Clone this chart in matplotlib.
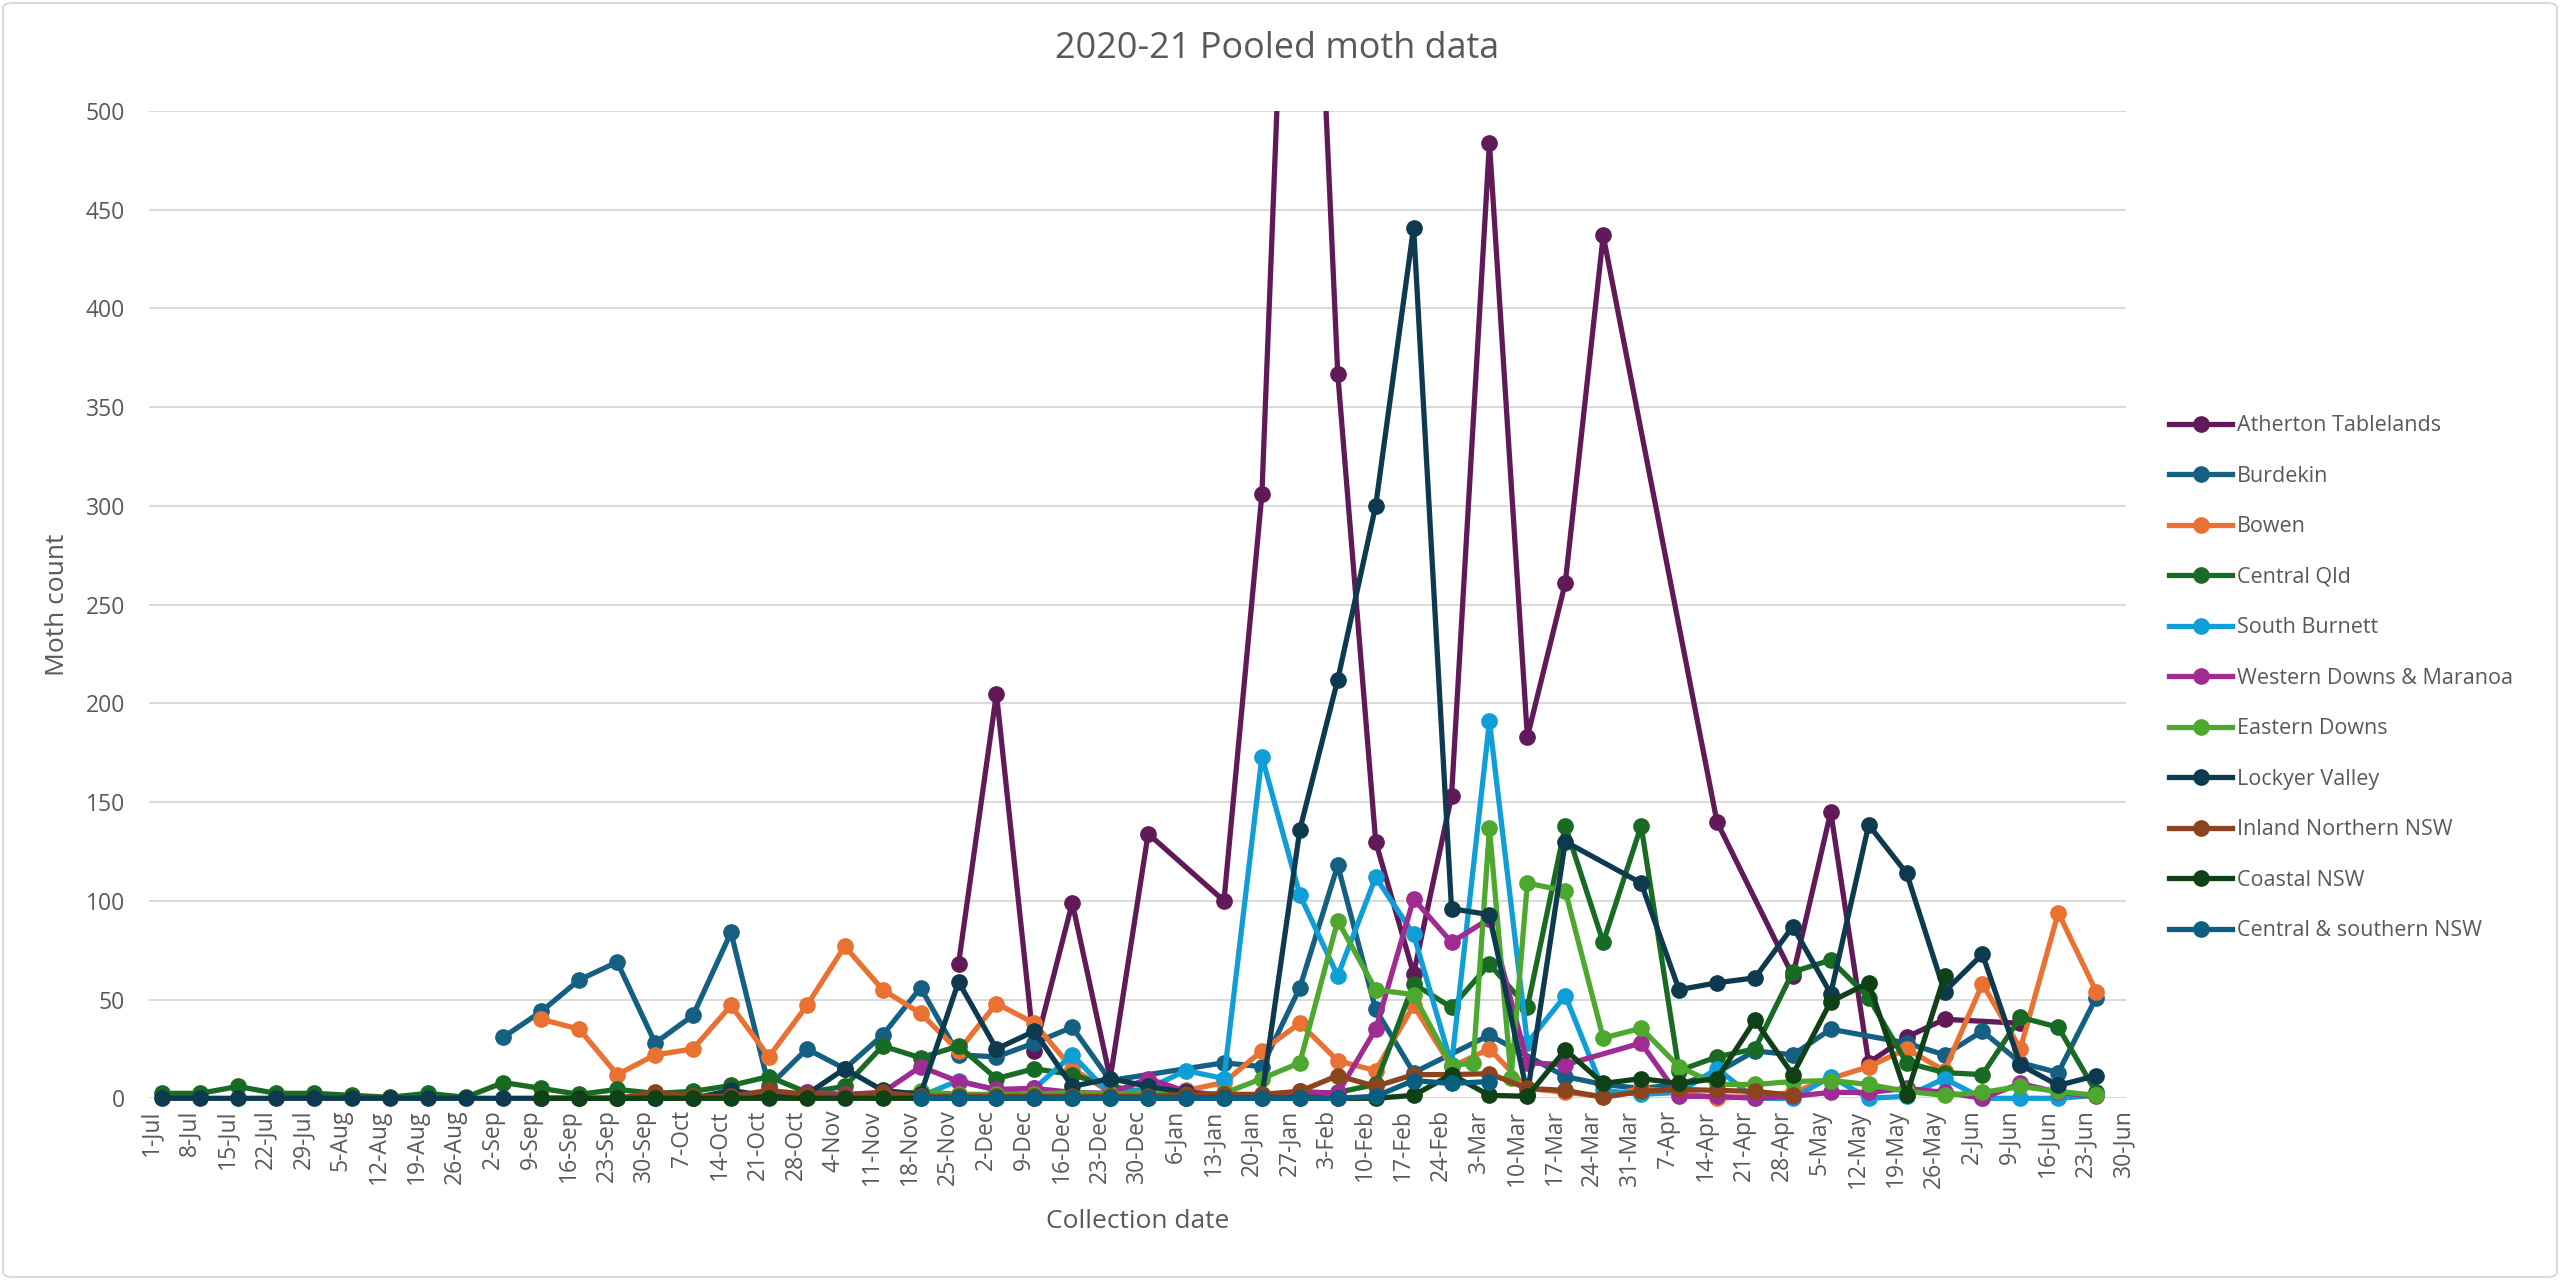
import numpy as np
import pandas as pd
import matplotlib
matplotlib.use("Agg")
import matplotlib.pyplot as plt
from matplotlib.patches import Rectangle, FancyBboxPatch
from matplotlib.lines import Line2D

plt.rcParams['font.family'] = ['Open Sans', 'DejaVu Sans']

_ = None

# ---------------- data ----------------
season_start = pd.Timestamp('2020-07-01')
collection_dates = pd.date_range('2020-07-03', periods=53, freq='7D')   # weekly collections
tick_dates = pd.date_range('2020-07-01', '2021-06-30', freq='7D')
tick_labels = [f"{d.day}-{d.strftime('%b')}" for d in tick_dates]

series_names = ["Atherton Tablelands", "Burdekin", "Bowen", "Central Qld", "South Burnett",
                "Western Downs & Maranoa", "Eastern Downs", "Lockyer Valley",
                "Inland Northern NSW", "Coastal NSW", "Central & southern NSW"]

atherton = [_]*21 + [68, 205, 24, 99, 10, 134, _, 100, 306, 798, 367, 130, 63, 153, 484, 183,
                     261, 437, _, _, 140, _, 62, 145, 18, 31, 40, _, 38, _, _, _]
burdekin = [_]*9 + [31, 44, 60, 69, 28, 42, 84, 6, 25, 15, 32, 56, 22, 21, 28, 36, 9, _, _, 18,
                    16, 56, 118, 45, 13, _, 32, _, 11, 7, 5, 7, 13, 24, 22, 35, _, 28, 22, 34,
                    18, 13, 51, _]
bowen = [_]*10 + [40, 35, 12, 22, 25, 47, 21, 47, 77, 55, 43, 24, 48, 38, 15, 3, 1, 4, 8, 24,
                  38, 19, 14, 47, 16, 25, 5, 3, 1, 5, 3, 0, 1, 3, 10, 16, 25, 14, 58, 25, 94, 54, _]
central_qld = [2.5, 2.5, 6, 2.5, 2.5, 1.5, 0.5, 2.5, 0.5, 8, 5, 2, 4.5, 2.5, 3.5, 6.5, 11, 3, 6,
               26.5, 20.5, 26.5, 10, 15, 12, 6, 3, 1, 1, 1, 2, 3, 7, 58, 46, 68, 46, 138, 79,
               138, 14, 21, 25, 64, 70, 51, 18, 13, 12, 41, 36, 3, _]
south_burnett = [_]*19 + [3, 1, 9, 4, 5, 22, 2, 5, 14, 10, 173, 103, 62, 112, 83, 17, 191, 28,
                          52, 4, 2, 3, 15, 0, 0, 11, 0, 1, 10, 0, 0, 0, 1.5, _]
western_downs = [_]*17 + [3, 2, 3, 16, 8.5, 4.5, 5, 3, 2.5, 10, 3.5, 1.5, 1.5, 3.5, 2.5, 35, 101,
                          79, 91, 18, 17, _, 28, 1, 1, 0, 1, 3, 3, 5, 3, 0, 7.5, 3, 1, _]
eastern_downs = [_]*19 + [1, 3.5, 2, 2, 2, 3, 2, 3, 2, 2.5, 10, 18, 90, 55, 52.5, 16.5, 137, 109,
                          105, 30.5, 35.5, 16, 7, 7, 8.5, 9, 7, 3.5, 1.5, 3, 6, 3.5, 1.5, _]
eastern_downs_extra_dates = ['2021-03-02', '2021-03-09']
eastern_downs_extra_values = [18, 10.5]
lockyer = [0, 0, 0, 0, 0, 0, 0, 0, 0, 0, 0, 0, 0, 0, 0,
           4, 1, 2, 15, 4, 2, 59, 25, 34, 6, 10, 6, 3, 1, 1, 136, 212, 300, 441, 96, 93, 2, 130,
           _, 109, 55, 58.5, 61, 87, 53, 138.5, 114, 54, 73, 17, 6.5, 11.5, _]
inland_nsw = [_]*10 + [0, 0, 0, 3, 1, 1, 4, 2, 1, 3, 1, 1, 1, 1, 1, 1, 1, 2, 2, 2, 3.5, 11.5, 6,
                       12, 12, 12.5, 5, 4, 0.5, 3.5, 4.5, 4, 3.5, 1.5] + [_]*9
coastal_nsw = [_]*10 + [0, 0, 0, 0, 0, 0, 0, 0, 0, 0, 0, 0, 0, 0, 0, 0, 0, 0, 0, 0, 0, 0, 0,
                        1.5, 12, 1.5, 1, 24.5, 7.5, 10, 7.5, 10, 39.5, 12, 49, 58.5, 1.5, 62] + [_]*5
cs_nsw = [_]*20 + [0, 0, 0, 0, 0, 0, 0, 0, 0, 0, 0, 0, 1, 9, 7.5, 8.5] + [_]*17

series_values = [atherton, burdekin, bowen, central_qld, south_burnett, western_downs,
                 eastern_downs, lockyer, inland_nsw, coastal_nsw, cs_nsw]
series_colors = ["#601A58", "#156082", "#E97132", "#196B24", "#0F9ED5", "#A02B93",
                 "#4EA72E", "#0D3A4E", "#8C441E", "#0F4016", "#0A5E80"]

LW, MS = 3.8, 11

# ---------------- figure ----------------
W, H = 2560, 1280
fig = plt.figure(figsize=(W / 100, H / 100), dpi=100)
fig.patch.set_facecolor('white')

ax = fig.add_axes([148.6 / W, 1 - 1098.3 / H, (2126 - 148.6) / W, (1098.3 - 111) / H])
ax.set_facecolor('none')

base_days = np.array([(d - season_start).days for d in collection_dates], dtype=float)
clip_rect = Rectangle((-0.05, -0.08), 1.1, 1.08, transform=ax.transAxes,
                      facecolor='none', edgecolor='none')

for name, vals, col in zip(series_names, series_values, series_colors):
    xs = [x for x, v in zip(base_days, vals) if v is not None]
    ys = [v for v in vals if v is not None]
    if name == "Eastern Downs":
        xs += [(pd.Timestamp(d) - season_start).days for d in eastern_downs_extra_dates]
        ys += list(eastern_downs_extra_values)
    order = np.argsort(xs)
    xs = np.array(xs, dtype=float)[order]
    ys = np.array(ys, dtype=float)[order]
    ln, = ax.plot(xs, ys, '-o', color=col, lw=LW, ms=MS, label=name,
                  solid_joinstyle='round', solid_capstyle='round', clip_on=True)
    ln.set_clip_path(clip_rect)

ax.set_xlim(-0.5, 364.5)
ax.set_ylim(0, 500)
ax.set_yticks(np.arange(0, 501, 50))
tick_days = [(d - season_start).days for d in tick_dates]
ax.set_xticks(tick_days)
ax.set_xticklabels(tick_labels, rotation=90, ha='center', va='top')
ax.tick_params(axis='both', length=0, labelsize=16.5, labelcolor='#595959')
ax.tick_params(axis='y', pad=17)
ax.tick_params(axis='x', pad=8)
for s in ax.spines.values():
    s.set_visible(False)
ax.yaxis.grid(True, color='#D9D9D9', lw=1.4)
ax.set_axisbelow(True)

fig.text(0.499, 1 - 49 / H, "2020-21 Pooled moth data", ha='center', va='center',
         fontsize=25.9, color='#595959')
fig.text(57 / W, ax.get_position().y0 + ax.get_position().height / 2, "Moth count",
         rotation=90, ha='center', va='center', fontsize=19, color='#595959')
fig.text(ax.get_position().x0 + ax.get_position().width / 2, 1 - 1221 / H, "Collection date",
         ha='center', va='center', fontsize=19, color='#595959')

handles = [Line2D([0], [0], color=c, lw=LW, marker='o', ms=MS) for c in series_colors]
leg = fig.legend(handles, series_names, loc='center left', bbox_to_anchor=(2150 / W, 0.47),
                 frameon=False, fontsize=15.5, labelspacing=1.37, handlelength=2.9,
                 handletextpad=0.25, labelcolor='#595959')

border = FancyBboxPatch((3 / W, 3 / H), 1 - 6 / W, 1 - 6 / H, boxstyle='round,pad=0,rounding_size=0.004',
                        transform=fig.transFigure, facecolor='none', edgecolor='#D9D9D9', lw=1.5)
fig.patches.append(border)

fig.savefig('out.png', dpi=100, facecolor='white')
